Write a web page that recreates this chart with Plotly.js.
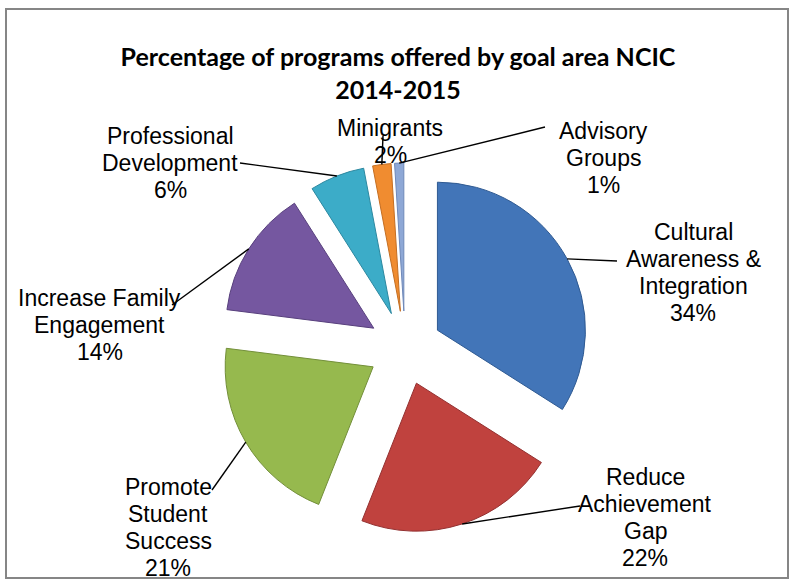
<!DOCTYPE html>
<html>
<head>
<meta charset="utf-8">
<script src="https://cdn.plot.ly/plotly-3.0.1.min.js"></script>
<style>html,body{margin:0;padding:0;background:#fff;}#chart{width:796px;height:584px;}</style>
</head>
<body>
<div id="chart"></div>
<script>
// ---- data ----
var categories = ["Cultural\nAwareness &\nIntegration", "Reduce\nAchievement\nGap", "Promote\nStudent\nSuccess", "Increase Family\nEngagement", "Professional\nDevelopment", "Minigrants", "Advisory\nGroups"];
var values = [34, 22, 21, 14, 6, 2, 1];
var percentLabels = ["34%", "22%", "21%", "14%", "6%", "2%", "1%"];
var colors = ["#4275B8", "#C0423E", "#96B94E", "#7557A0", "#3CACC8", "#F08C30", "#8EA8D6"];
var edgeColors = ["#2F5A92", "#933030", "#738F3A", "#58407D", "#2C88A0", "#C46E22", "#6F88B8"];

// ---- label placement (pixels): block centre and leader-line end ----
var labelPos = [[693, 272], [645, 517], [168, 527], [100, 325], [170, 163], [390, 142], [603, 158]];
var leaderEnd = [[617, 261], [580, 506], [212, 490], [172, 305], [240, 163], [383, 136], [545, 127]];

var W = 796, H = 584, pull = 0.25;
var domX = [220 / W, 590 / W], domY = [1 - 533 / H, 1 - 163 / H];
var boxW = W * (domX[1] - domX[0]), boxH = H * (domY[1] - domY[0]);
var cx = W * (domX[0] + domX[1]) / 2, cy = H * (1 - (domY[0] + domY[1]) / 2);
var R = Math.min(boxW, boxH) / 2 / (1 + pull);

var total = values.reduce(function (a, b) { return a + b; }, 0);
var shapes = [{
  type: 'rect', xref: 'paper', yref: 'paper',
  x0: 6 / W, x1: 788 / W, y0: 1 - 578 / H, y1: 1 - 9 / H,
  line: { color: '#868686', width: 2 }, fillcolor: 'rgba(0,0,0,0)'
}];
var annotations = [];
var cum = 0;
var lineH = 27;
values.forEach(function (v, i) {
  var th = 2 * Math.PI * (cum + v / 2) / total;
  cum += v;
  var ax = cx + R * (1 + pull) * Math.sin(th);
  var ay = cy - R * (1 + pull) * Math.cos(th);
  shapes.push({
    type: 'line', xref: 'paper', yref: 'paper',
    x0: ax / W, y0: 1 - ay / H, x1: leaderEnd[i][0] / W, y1: 1 - leaderEnd[i][1] / H,
    line: { color: '#000', width: 1.4 }
  });
  var lines = categories[i].split('\n').concat([percentLabels[i]]);
  var n = lines.length;
  lines.forEach(function (t, k) {
    annotations.push({
      xref: 'paper', yref: 'paper',
      x: labelPos[i][0] / W, y: 1 - labelPos[i][1] / H,
      yshift: -(k - (n - 1) / 2) * lineH,
      xanchor: 'center', yanchor: 'middle',
      text: t, showarrow: false,
      font: { family: 'Liberation Sans, Arial, sans-serif', size: 23, color: '#000' }
    });
  });
});

var trace = {
  type: 'pie',
  values: values,
  labels: categories.map(function (c) { return c.replace(/\n/g, ' '); }),
  sort: false,
  direction: 'clockwise',
  rotation: 0,
  pull: values.map(function () { return pull; }),
  textinfo: 'none',
  hoverinfo: 'none',
  marker: { colors: colors, line: { color: edgeColors, width: 1 } },
  domain: { x: domX, y: domY },
  showlegend: false
};

var layout = {
  width: W, height: H,
  margin: { l: 0, r: 0, t: 0, b: 0 },
  paper_bgcolor: '#fff',
  title: {
    text: 'Percentage of programs offered by goal area NCIC<br>2014-2015',
    font: { family: 'Lato, Carlito, sans-serif', size: 25, color: '#000', weight: 'bold' },
    x: 0.5, xanchor: 'center', xref: 'paper',
    y: 1 - 66 / H, yanchor: 'top', yref: 'container'
  },
  shapes: shapes,
  annotations: annotations,
  showlegend: false
};

Plotly.newPlot('chart', [trace], layout, { staticPlot: true });
</script>
</body>
</html>
